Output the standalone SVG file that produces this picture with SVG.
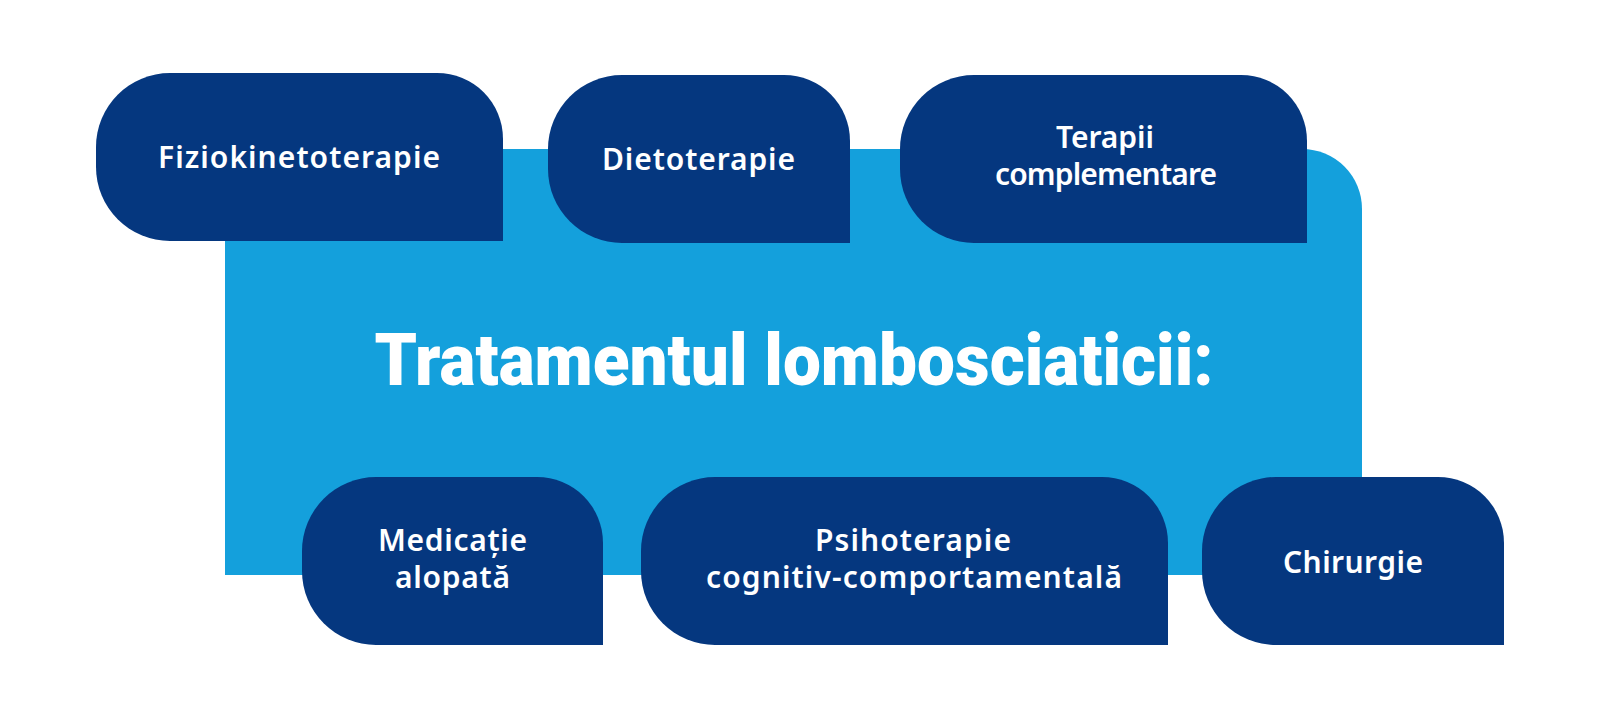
<svg xmlns="http://www.w3.org/2000/svg" width="1600" height="720" viewBox="0 0 1600 720">
  <style>
    .bg { fill: #ffffff; }
    .panel { fill: #14a0dc; }
    .node { fill: #05377f; }
    .lbl { font-family: "Noto Sans", "Open Sans", "Liberation Sans", sans-serif; font-weight: 600; font-size: 30px; fill: #ffffff; text-anchor: middle; }
    .title { font-family: Roboto, "Liberation Sans", sans-serif; font-weight: 900; font-size: 72px; fill: #ffffff; text-anchor: middle; }
  </style>
  <rect class="bg" x="0" y="0" width="1600" height="720"/>
  <g id="center">
    <path class="panel" d="M225,149 H1302 A60,60 0 0 1 1362,209 V575 H225 Z"/>
    <text class="title" x="794" y="385" textLength="839" lengthAdjust="spacingAndGlyphs">Tratamentul lombosciaticii:</text>
  </g>
  <g id="connectors"></g>
  <g id="node-fiziokinetoterapie">
    <path class="node" d="M170,73 H437 A66,66 0 0 1 503,139 V241 H170 A74,74 0 0 1 96,167 V147 A74,74 0 0 1 170,73 Z"/>
    <text class="lbl" x="299" y="168" textLength="282">Fiziokinetoterapie</text>
  </g>
  <g id="node-dietoterapie">
    <path class="node" d="M622,75 H784 A66,66 0 0 1 850,141 V243 H622 A74,74 0 0 1 548,169 V149 A74,74 0 0 1 622,75 Z"/>
    <text class="lbl" x="698.5" y="170" textLength="193">Dietoterapie</text>
  </g>
  <g id="node-terapii">
    <path class="node" d="M974,75 H1241 A66,66 0 0 1 1307,141 V243 H974 A74,74 0 0 1 900,169 V149 A74,74 0 0 1 974,75 Z"/>
    <text class="lbl" x="1105" y="148" textLength="98">Terapii</text>
    <text class="lbl" x="1106" y="185" textLength="222">complementare</text>
  </g>
  <g id="node-medicatie">
    <path class="node" d="M376,477 H537 A66,66 0 0 1 603,543 V645 H376 A74,74 0 0 1 302,571 V551 A74,74 0 0 1 376,477 Z"/>
    <text class="lbl" x="452.5" y="551" textLength="149">Medicație</text>
    <text class="lbl" x="452.5" y="588" textLength="115">alopată</text>
  </g>
  <g id="node-psihoterapie">
    <path class="node" d="M715,477 H1102 A66,66 0 0 1 1168,543 V645 H715 A74,74 0 0 1 641,571 V551 A74,74 0 0 1 715,477 Z"/>
    <text class="lbl" x="913" y="551" textLength="196">Psihoterapie</text>
    <text class="lbl" x="914" y="588" textLength="416">cognitiv-comportamentală</text>
  </g>
  <g id="node-chirurgie">
    <path class="node" d="M1276,477 H1438 A66,66 0 0 1 1504,543 V645 H1276 A74,74 0 0 1 1202,571 V551 A74,74 0 0 1 1276,477 Z"/>
    <text class="lbl" x="1353" y="573" textLength="140">Chirurgie</text>
  </g>
</svg>
